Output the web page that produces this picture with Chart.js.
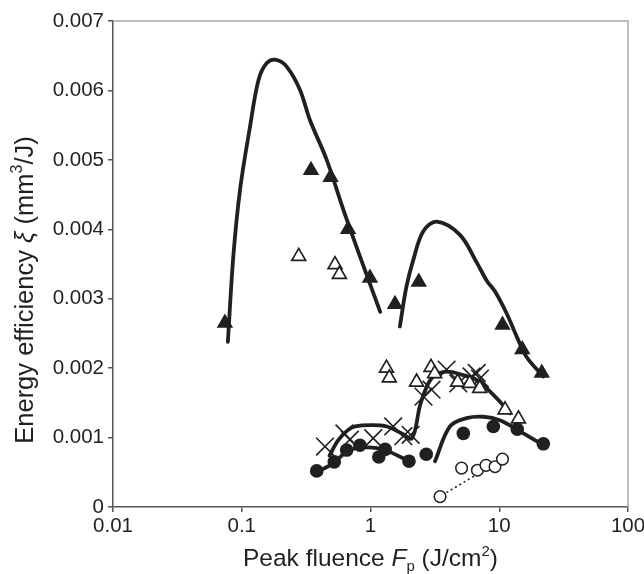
<!DOCTYPE html>
<html>
<head>
<meta charset="utf-8">
<script src="https://cdn.jsdelivr.net/npm/chart.js@4.4.1/dist/chart.umd.min.js"></script>
<style>
  html, body { margin: 0; padding: 0; background: #fff; }
  #wrap { width: 644px; height: 574px; }
</style>
</head>
<body>
<div id="wrap"><canvas id="c" width="644" height="574"></canvas></div>
<script>
// Axis ticks
const xTicks = [0.01, 0.1, 1, 10, 100];
const xTickLabels = ['0.01', '0.1', '1', '10', '100'];
const yTicks = [0, 0.001, 0.002, 0.003, 0.004, 0.005, 0.006, 0.007];
const yTickLabels = ['0', '0.001', '0.002', '0.003', '0.004', '0.005', '0.006', '0.007'];

// Measured points: [fluence J/cm2, efficiency mm3/J]
const filledTriangles = [
  [0.074, 0.00265], [0.345, 0.00485], [0.49, 0.00475], [0.67, 0.00400],
  [0.99, 0.00330], [1.55, 0.00292], [2.37, 0.00324], [10.6, 0.00262],
  [15.1, 0.00227], [21.4, 0.00193]
];
const openTriangles = [
  [0.277, 0.00361], [0.53, 0.00349], [0.573, 0.00335], [1.33, 0.00200],
  [1.40, 0.00186], [2.28, 0.00180], [2.95, 0.00201], [3.15, 0.00192],
  [4.75, 0.00180], [5.9, 0.00178], [7.05, 0.00171], [11.1, 0.00140],
  [14.1, 0.00127]
];
const crosses = [
  [0.443, 0.00087], [0.627, 0.00106], [0.69, 0.00097], [1.05, 0.00099],
  [1.50, 0.00116], [1.80, 0.00102], [2.05, 0.00104], [2.58, 0.00159],
  [2.98, 0.00169], [3.9, 0.00198], [4.81, 0.00178], [6.1, 0.00188],
  [6.69, 0.00193], [7.08, 0.00185]
];
const filledCircles = [
  [0.382, 0.00052], [0.523, 0.00065], [0.653, 0.00082], [0.828, 0.00089],
  [1.16, 0.00072], [1.30, 0.00083], [1.99, 0.00066], [2.71, 0.00076],
  [5.26, 0.00106], [9.0, 0.00116], [13.8, 0.00112], [22.0, 0.00091]
];
const openCircles = [
  [3.47, 0.00015], [5.1, 0.00056], [6.77, 0.00053], [7.89, 0.00060],
  [9.27, 0.00058], [10.6, 0.00069]
];

// Model curves
const triangleCurveLow = [
  [0.078, 0.00238], [0.086, 0.00361], [0.097, 0.00457], [0.116, 0.00548],
  [0.135, 0.00615], [0.156, 0.00639], [0.185, 0.00644], [0.224, 0.00634],
  [0.283, 0.00601], [0.339, 0.00557], [0.457, 0.00500], [0.616, 0.00428],
  [0.828, 0.00361], [1.19, 0.00281]
];
const triangleCurveHigh = [
  [1.69, 0.00260], [1.9, 0.00317], [2.15, 0.00356], [2.57, 0.00397],
  [3.27, 0.00411], [4.95, 0.00392], [6.69, 0.00352], [8.0, 0.00326],
  [9.3, 0.00310], [11.4, 0.00279], [13.7, 0.00245], [16.3, 0.00216],
  [22.0, 0.00188]
];
const crossCurve = [
  [0.48, 0.00074], [0.56, 0.00096], [0.66, 0.00110], [0.76, 0.00116],
  [1.02, 0.00118], [1.34, 0.00116], [1.75, 0.00106], [2.1, 0.00099],
  [2.43, 0.00147], [2.73, 0.00173], [3.08, 0.00188], [3.9, 0.00195],
  [5.26, 0.00190], [6.69, 0.00183], [8.0, 0.00171], [10.1, 0.00152],
  [12.1, 0.00135]
];
const circleCurveLow = [
  [0.382, 0.00050], [0.523, 0.00064], [0.653, 0.00080], [0.83, 0.00086],
  [1.08, 0.00085], [1.3, 0.00082], [2.0, 0.00066]
];
const circleCurveHigh = [
  [3.17, 0.00066], [4.14, 0.00116], [5.58, 0.00128], [7.52, 0.00130],
  [10.1, 0.00125], [14.5, 0.00109], [22.0, 0.00089]
];
const openCircleTrend = [[3.6, 0.00017], [10.4, 0.00068]];

const INK = '#231f20';
const FAMILY = '"Liberation Sans", Arial, sans-serif';
const toXY = arr => arr.map(p => ({ x: p[0], y: p[1] }));

function curve(data) {
  return {
    type: 'line', data: toXY(data), borderColor: INK, borderWidth: 3.8,
    pointRadius: 0, tension: 0.35, fill: false, order: 5,
    borderCapStyle: 'round', borderJoinStyle: 'round'
  };
}

const datasets = [
  curve(triangleCurveLow),
  curve(triangleCurveHigh),
  curve(crossCurve),
  curve(circleCurveLow),
  curve(circleCurveHigh),
  {
    type: 'line', data: toXY(openCircleTrend), borderColor: INK, borderWidth: 1.6,
    borderDash: [2, 3], pointRadius: 0, order: 5
  },
  {
    type: 'scatter', data: toXY(openTriangles), pointStyle: 'triangle',
    pointRadius: 8, backgroundColor: '#fff', borderColor: INK, pointBorderWidth: 1.7, order: 2
  },
  {
    type: 'scatter', data: toXY(crosses), pointStyle: 'crossRot',
    pointRadius: 12.5, borderColor: INK, pointBorderWidth: 1.6, order: 2
  },
  {
    type: 'scatter', data: toXY(openCircles), pointStyle: 'circle',
    pointRadius: 5.8, backgroundColor: '#fff', borderColor: INK, pointBorderWidth: 1.5, order: 1
  },
  {
    type: 'scatter', data: toXY(filledCircles), pointStyle: 'circle',
    pointRadius: 6.8, backgroundColor: INK, borderColor: INK, pointBorderWidth: 0, order: 1
  },
  {
    type: 'scatter', data: toXY(filledTriangles), pointStyle: 'triangle',
    pointRadius: 9.5, backgroundColor: INK, borderColor: INK, pointBorderWidth: 0, order: 1
  }
];

// Frame on top/right plus the two axis titles with italic symbols and sub/superscripts
const decorations = {
  id: 'decorations',
  beforeDatasetsDraw(chart) {
    const { ctx, chartArea: a } = chart;
    ctx.save();
    ctx.strokeStyle = '#a8a8a8';
    ctx.lineWidth = 1.5;
    ctx.beginPath();
    ctx.moveTo(a.left, a.top);
    ctx.lineTo(a.right, a.top);
    ctx.lineTo(a.right, a.bottom);
    ctx.stroke();
    ctx.restore();
  },
  afterDraw(chart) {
    const { ctx, chartArea: a } = chart;
    const drawRuns = (runs, cx, cy) => {
      let total = 0;
      runs.forEach(r => { ctx.font = r.font; total += ctx.measureText(r.t).width; });
      let x = cx - total / 2;
      runs.forEach(r => {
        ctx.font = r.font;
        ctx.fillText(r.t, x, cy + (r.dy || 0));
        x += ctx.measureText(r.t).width;
      });
    };
    const fonts = size => ({
      n: `${size}px ${FAMILY}`,
      it: `italic ${size}px ${FAMILY}`,
      sm: `${Math.round(size * 0.62)}px ${FAMILY}`
    });
    const fx = fonts(24.5);
    const fy = fonts(25.5);
    ctx.save();
    ctx.fillStyle = INK;
    ctx.textBaseline = 'alphabetic';
    ctx.textAlign = 'left';
    drawRuns([
      { t: 'Peak fluence ', font: fx.n },
      { t: 'F', font: fx.it },
      { t: 'p', font: fx.sm, dy: 5 },
      { t: ' (J/cm', font: fx.n },
      { t: '2', font: fx.sm, dy: -10 },
      { t: ')', font: fx.n }
    ], (a.left + a.right) / 2, 566);
    ctx.translate(33, 290);
    ctx.rotate(-Math.PI / 2);
    drawRuns([
      { t: 'Energy efficiency ', font: fy.n },
      { t: 'ξ', font: fy.it },
      { t: ' (mm', font: fy.n },
      { t: '3', font: fy.sm, dy: -11 },
      { t: '/J)', font: fy.n }
    ], 0, 0);
    ctx.restore();
  }
};

const tickFont = { family: FAMILY, size: 20.5 };

new Chart(document.getElementById('c'), {
  data: { datasets },
  options: {
    responsive: false,
    animation: false,
    layout: { padding: { top: 21, right: 16, left: 0, bottom: 0 } },
    plugins: { legend: { display: false }, tooltip: { enabled: false } },
    scales: {
      x: {
        type: 'logarithmic', min: 0.01, max: 100,
        afterBuildTicks: s => { s.ticks = xTicks.map(v => ({ value: v })); },
        afterFit: s => { s.height = 67; s.paddingLeft = 0; s.paddingRight = 0; },
        ticks: {
          font: tickFont, color: INK, padding: 2, maxRotation: 0, autoSkip: false,
          callback: (v) => { const i = xTicks.indexOf(v); return i >= 0 ? xTickLabels[i] : ''; }
        },
        grid: { display: true, drawOnChartArea: false, drawTicks: true, tickLength: 5, color: '#555', lineWidth: 1.5 },
        border: { display: true, color: '#555', width: 1.5 }
      },
      y: {
        type: 'linear', min: 0, max: 0.007,
        afterBuildTicks: s => { s.ticks = yTicks.map(v => ({ value: v })); },
        afterFit: s => { s.width = 113; s.paddingTop = 0; s.paddingBottom = 0; },
        ticks: {
          font: tickFont, color: INK, padding: 4,
          callback: (v, i) => yTickLabels[i]
        },
        grid: { display: true, drawOnChartArea: false, drawTicks: true, tickLength: 5, color: '#555', lineWidth: 1.5 },
        border: { display: true, color: '#555', width: 1.5 }
      }
    }
  },
  plugins: [decorations]
});
</script>
</body>
</html>
